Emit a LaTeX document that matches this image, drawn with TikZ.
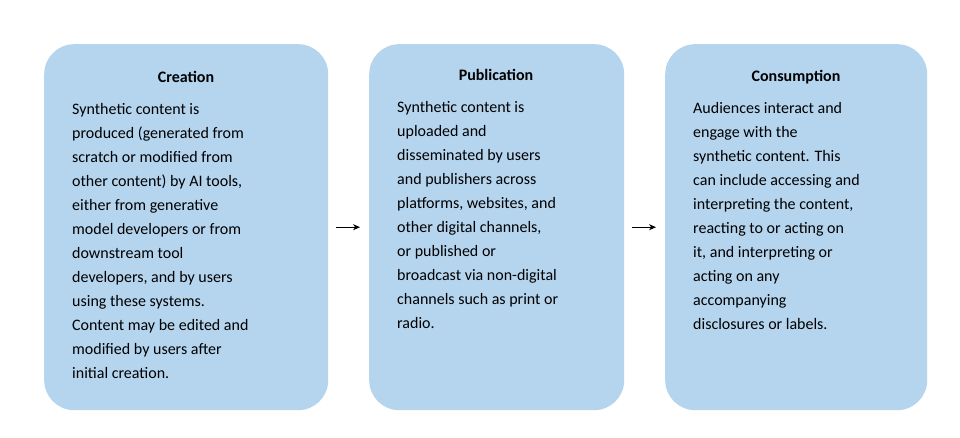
\documentclass[tikz,border=0pt]{standalone}
\usepackage{fontspec}
\setmainfont{Carlito}
\usetikzlibrary{positioning,arrows.meta}
\definecolor{stageblue}{HTML}{B5D5EF}

\begin{document}
\begin{tikzpicture}[x=1pt,y=-1pt, >={Stealth[length=7pt,width=6pt]},
    every node/.append style={font=\fontsize{16}{24}\selectfont}]
    \tikzstyle{stage}=[draw=none, fill=stageblue, rounded corners=30pt, anchor=north west, inner sep=0pt]
    \tikzstyle{title}=[font=\fontsize{16}{24}\selectfont\bfseries, anchor=base]
    \tikzstyle{body}=[anchor=north west, inner sep=0pt, align=left]
    \tikzstyle{flow}=[->, draw=black, line width=0.8pt, shorten <=8pt, shorten >=9pt]

    \fill[white] (0,0) rectangle (960,438);

    % The three stages
    \node[stage, minimum width=284pt, minimum height=366pt] (creation) at (44,44) {};
    \node[stage, minimum width=255pt, minimum height=366pt] (publication) at (369,44) {};
    \node[stage, minimum width=262pt, minimum height=366pt] (consumption) at (665,44) {};

    % Titles
    \node[title] (t1) at (186,83) {Creation};
    \node[title] (t2) at (496,81) {Publication};
    \node[title] (t3) at (796,82) {Consumption};

    % Descriptions
    \node[body] (b1) at (72,103) {Synthetic content is\\produced (generated from\\scratch or modified from\\other content) by AI tools,\\either from generative\\model developers or from\\downstream tool\\developers, and by users\\using these systems.\\Content may be edited and\\modified by users after\\initial creation.};
    \node[body] (b2) at (397,101) {Synthetic content is\\uploaded and\\disseminated by users\\and publishers across\\platforms, websites, and\\other digital channels,\\or published or\\broadcast via non-digital\\channels such as print or\\radio.};
    \node[body] (b3) at (693,102) {Audiences interact and\\engage with the\\synthetic content. This\\can include accessing and\\interpreting the content,\\reacting to or acting on\\it, and interpreting or\\acting on any\\accompanying\\disclosures or labels.};

    % Flow between stages
    \draw[flow] (creation.east) -- (publication.west);
    \draw[flow] (publication.east) -- (consumption.west);
\end{tikzpicture}
\end{document}
